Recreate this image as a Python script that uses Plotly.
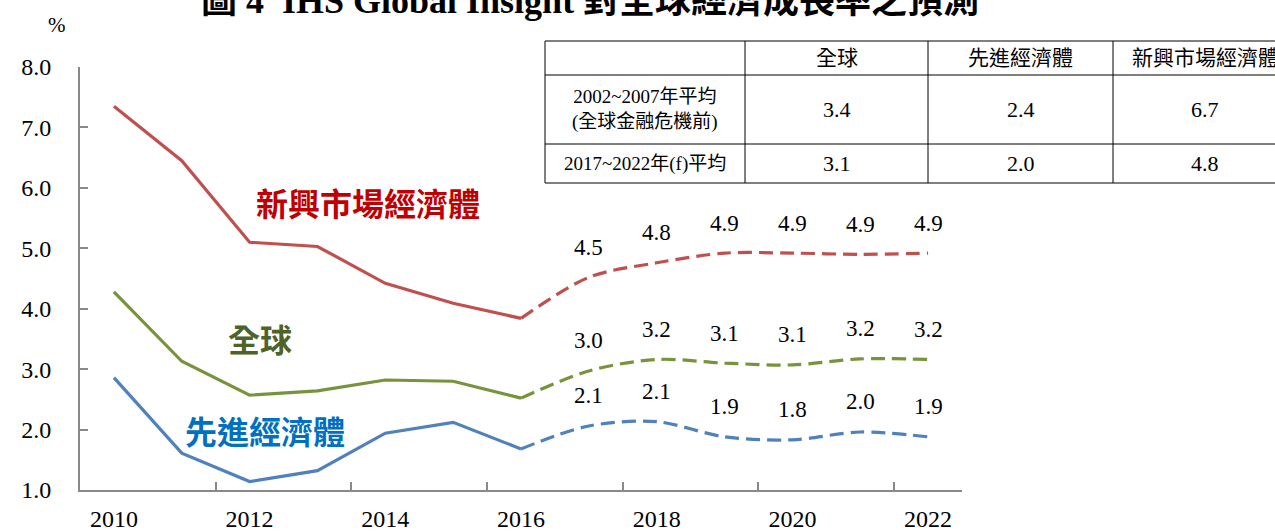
import plotly.graph_objects as go

# ---------------- data ----------------
years = list(range(2010, 2023))
emerging = [7.35, 6.45, 5.10, 5.03, 4.42, 4.09, 3.84, 4.52, 4.76, 4.92, 4.92, 4.90, 4.92]
world = [4.28, 3.13, 2.57, 2.64, 2.82, 2.80, 2.52, 2.97, 3.16, 3.10, 3.07, 3.17, 3.16]
advanced = [2.86, 1.61, 1.14, 1.32, 1.94, 2.12, 1.68, 2.06, 2.13, 1.88, 1.83, 1.96, 1.88]
last_actual_year = 2016
tick_years = [2010, 2012, 2014, 2016, 2018, 2020, 2022]

series_names = ["新興市場經濟體", "全球", "先進經濟體"]

table_cols = ["全球", "先進經濟體", "新興市場經濟體"]
table_rows = ["2002~2007年平均<br>(全球金融危機前)", "2017~2022年(f)平均"]
table_vals = [[3.4, 2.4, 6.7], [3.1, 2.0, 4.8]]

title_text = "圖 4  IHS Global Insight 對全球經濟成長率之預測"

# ---------------- layout geometry ----------------
W, H = 1275, 532
L, R, T, B = 80, 962, 67, 490  # plot area in pixels


def px_x(p):
    return (p - L) / (R - L)


def px_y(p):
    return (B - p) / (B - T)


SERIF = "Liberation Serif, Times New Roman, Noto Sans CJK TC, serif"
CJK = "Noto Sans CJK TC, sans-serif"

fig = go.Figure()

styles = [
    (emerging, "#C0504D", "#C00000"),
    (world, "#77933C", "#4F6228"),
    (advanced, "#4F81BD", "#0070C0"),
]

split = years.index(last_actual_year)
for (vals, col, _), name in zip(styles, series_names):
    fig.add_trace(go.Scatter(
        x=years[:split + 1], y=vals[:split + 1], mode="lines",
        line=dict(color=col, width=3.2), name=name, showlegend=False,
        hoverinfo="skip"))
    fig.add_trace(go.Scatter(
        x=years[split:], y=vals[split:], mode="lines",
        line=dict(color=col, width=3.2, dash="14px,7px", shape="spline", smoothing=0.9),
        name=name + " (f)", showlegend=False, hoverinfo="skip"))

annotations = []
# data labels for forecast years
for vals, col, _ in styles:
    for x, v in zip(years[split + 1:], vals[split + 1:]):
        annotations.append(dict(
            x=x, y=v, xref="x", yref="y", text=f"{v:.1f}", showarrow=False,
            xanchor="center", yanchor="middle",
            yshift=30, font=dict(family=SERIF, size=23, color="#000000")))

# series name labels
name_pos = [(2013.74, 5.76), (2012.15, 3.52), (2012.23, 2.0)]
for (vals, col, tcol), name, (nx, ny) in zip(styles, series_names, name_pos):
    annotations.append(dict(
        x=nx, y=ny, xref="x", yref="y", text=f"<b>{name}</b>", showarrow=False,
        xanchor="center", yanchor="middle",
        font=dict(family=CJK, size=32, color=tcol)))

# title (cut at top, as in the source) and % unit
annotations.append(dict(
    x=px_x(590), y=px_y(1), xref="paper", yref="paper", text=f"<b>{title_text}</b>",
    showarrow=False, xanchor="center", yanchor="middle",
    font=dict(family=SERIF, size=36, color="#000000")))
annotations.append(dict(
    x=px_x(57), y=px_y(25), xref="paper", yref="paper", text="%",
    showarrow=False, xanchor="center", yanchor="middle",
    font=dict(family=SERIF, size=21, color="#000000")))

# ---------------- table ----------------
col_edges = [545, 745, 928, 1113, 1297]
row_edges = [41, 75, 144, 183]
shapes = []
line = dict(color="#000000", width=1)
for ry in row_edges:
    shapes.append(dict(type="line", xref="paper", yref="paper",
                       x0=px_x(col_edges[0]), x1=px_x(W + 5), y0=px_y(ry), y1=px_y(ry), line=line))
for cx in col_edges[:-1]:
    shapes.append(dict(type="line", xref="paper", yref="paper",
                       x0=px_x(cx), x1=px_x(cx), y0=px_y(row_edges[0]), y1=px_y(row_edges[-1]), line=line))


def cell_center(ci, ri):
    return px_x((col_edges[ci] + col_edges[ci + 1]) / 2), px_y((row_edges[ri] + row_edges[ri + 1]) / 2)


def cell_text(ci, ri, text, size):
    cx, cy = cell_center(ci, ri)
    return dict(x=cx, y=cy, xref="paper", yref="paper", text=text, showarrow=False,
                xanchor="center", yanchor="middle",
                font=dict(family=SERIF, size=size, color="#000000"))


for ci, c in enumerate(table_cols):
    annotations.append(cell_text(ci + 1, 0, c, 21))
for ri, (rlab, rvals) in enumerate(zip(table_rows, table_vals)):
    annotations.append(cell_text(0, ri + 1, rlab, 19))
    for ci, v in enumerate(rvals):
        annotations.append(cell_text(ci + 1, ri + 1, f"{v:.1f}", 22))

axis_col = "#898989"
fig.update_layout(
    width=W, height=H,
    margin=dict(l=L, r=W - R, t=T, b=H - B, pad=0, autoexpand=False),
    paper_bgcolor="white", plot_bgcolor="white",
    showlegend=False,
    xaxis=dict(
        range=[years[0] - 0.5, years[-1] + 0.5], showgrid=False, zeroline=False,
        showline=True, linecolor=axis_col, linewidth=2, automargin=False,
        tickmode="array", tickvals=tick_years, ticktext=[str(y) for y in tick_years],
        ticks="", ticklabelstandoff=6,
        tickfont=dict(family=SERIF, size=24, color="#000000"),
        minor=dict(tickmode="array", tickvals=[y + 1.5 for y in tick_years[:-1]],
                   ticks="inside", ticklen=8, tickcolor=axis_col, tickwidth=2, showgrid=False),
    ),
    yaxis=dict(
        range=[1, 8], dtick=1, tick0=1, tickformat=".1f", showgrid=False, zeroline=False,
        showline=True, linecolor=axis_col, linewidth=2, automargin=False,
        ticks="inside", ticklen=8, tickcolor=axis_col, tickwidth=2,
        ticklabelstandoff=22,
        tickfont=dict(family=SERIF, size=24, color="#000000"),
    ),
    annotations=annotations,
    shapes=shapes,
)

fig.write_html(
    "out.html",
    config={"displayModeBar": False},
    post_script="document.body.style.margin='0';document.body.style.overflow='hidden';",
)
